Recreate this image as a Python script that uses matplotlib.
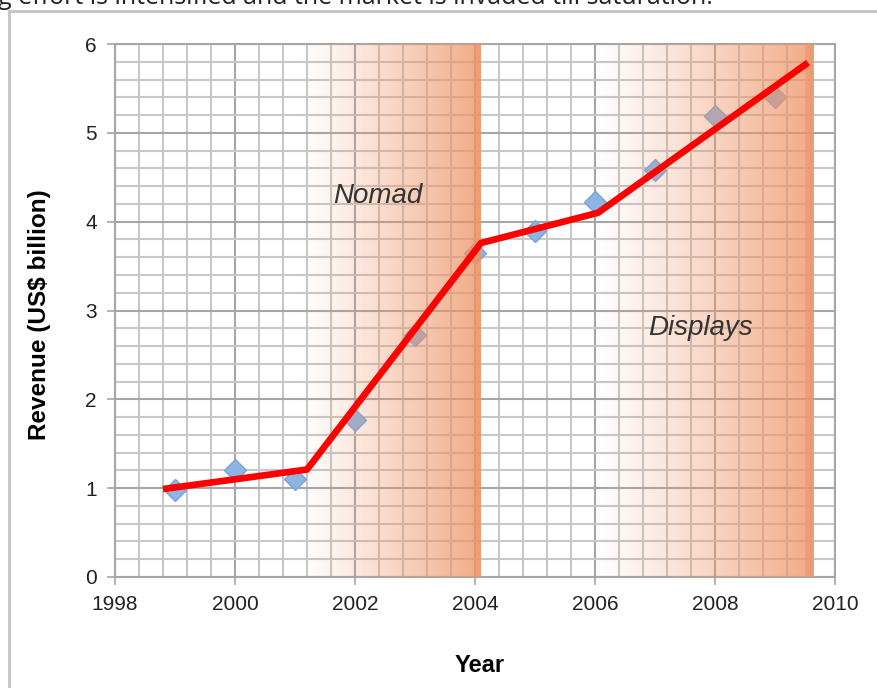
import numpy as np
import matplotlib
matplotlib.use("Agg")
import matplotlib.pyplot as plt
from matplotlib.patches import Rectangle

plt.rcParams["font.family"] = ["Liberation Sans", "DejaVu Sans"]

# data
years = [1999, 2000, 2001, 2002, 2003, 2004, 2005, 2006, 2007, 2008, 2009]
revenue = [0.98, 1.20, 1.10, 1.77, 2.72, 3.65, 3.90, 4.22, 4.58, 5.19, 5.40]

trend_x = [1998.8, 2001.2, 2004.1, 2006.05, 2009.55]
trend_y = [0.99, 1.21, 3.76, 4.10, 5.79]

phases = ["Nomad", "Displays"]
phase_start = [2001.1, 2006.0]
phase_end = [2004.1, 2009.65]

x_ticks = [1998, 2000, 2002, 2004, 2006, 2008, 2010]
y_ticks = [0, 1, 2, 3, 4, 5, 6]

orange = (0.93, 0.58, 0.40)
grid_major = "#a6a6a6"
grid_minor = "#c8c8c8"

fig = plt.figure(figsize=(8.78, 6.88), dpi=100)

# leftover caption from the page above, cut at the top
fig.text(-0.002, 1 - 4 / 688, "g effort is intensified and the market is invaded till saturation.",
         fontsize=18, family=["Open Sans", "DejaVu Sans"], color="#222222", va="baseline", ha="left")

# outer frame of the chart
fig.patches.append(Rectangle((9 / 878, -0.05), 1.0, 1 - 11 / 688 + 0.05, transform=fig.transFigure,
                             fill=False, edgecolor="#c4c4c4", lw=2.0))

ax = fig.add_axes([115 / 878, 1 - 577 / 688, 720 / 878, 533 / 688])
ax.set_xlim(1998, 2010)
ax.set_ylim(0, 6)

ax.set_xticks(x_ticks)
ax.set_yticks(y_ticks)
ax.set_xticks(np.arange(1998, 2010.01, 0.4), minor=True)
ax.set_yticks(np.arange(0, 6.01, 0.2), minor=True)
ax.grid(which="major", color=grid_major, lw=1.5, zorder=0)
ax.grid(which="minor", color=grid_minor, lw=1.5, zorder=0)
ax.set_axisbelow(True)
ax.tick_params(which="minor", length=0)
ax.tick_params(which="major", length=6, width=1.2, color=grid_major, labelsize=15,
               labelcolor="#222222", pad=7)
for sp in ax.spines.values():
    sp.set_color(grid_major)
    sp.set_linewidth(1.5)

# diamonds (under the gradient, like in the original)
ax.plot(years, revenue, ls="none", marker="D", ms=11, mfc="#8db4e2", mec="#7aa3d6", mew=1,
        zorder=2)

# gradient shading for the two phases
for x0, x1 in zip(phase_start, phase_end):
    n = 200
    alpha = np.linspace(0, 0.8, n) ** 1.1
    alpha[-8:] = 0.9
    img = np.zeros((1, n, 4))
    img[..., 0], img[..., 1], img[..., 2] = orange
    img[0, :, 3] = alpha
    ax.imshow(img, extent=[x0, x1, 0, 6], aspect="auto", interpolation="bilinear", zorder=3)

ax.plot(trend_x, trend_y, color="#ff0000", lw=4.8, solid_capstyle="butt", zorder=4)

ax.text(2002.38, 4.29, phases[0], style="italic", fontsize=20, color="#333333",
        ha="center", va="center", zorder=5)
ax.text(2007.75, 2.80, phases[1], style="italic", fontsize=20, color="#333333",
        ha="center", va="center", zorder=5)

ax.set_xlim(1998, 2010)
ax.set_ylim(0, 6)

fig.text(480 / 878, 1 - 666 / 688, "Year", fontsize=17, fontweight="bold", ha="center", va="center")
fig.text(40 / 878, 1 - 315 / 688, "Revenue (US$ billion)", fontsize=17.5, fontweight="bold",
         rotation=90, ha="center", va="center")

fig.savefig("out.png", dpi=100)
